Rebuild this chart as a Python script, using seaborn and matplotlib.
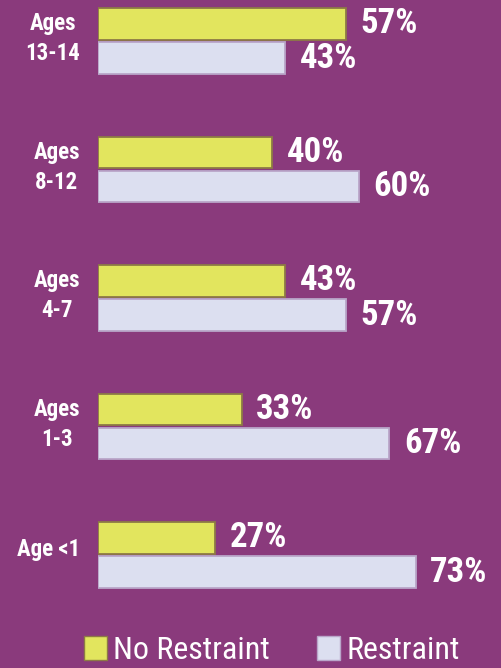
import os
import matplotlib
matplotlib.use("Agg")
import seaborn as sns
import matplotlib.pyplot as plt
import matplotlib.transforms as mtransforms
from matplotlib import font_manager as fm
import pandas as pd

# data
ages = ["Ages\n13-14", "Ages\n8-12", "Ages\n4-7", "Ages\n1-3", "Age <1"]
no_restraint = [57, 40, 43, 33, 27]
restraint = [43, 60, 57, 67, 73]
groups = ["No Restraint", "Restraint"]

bg = "#8a3a7c"
colors = {"No Restraint": "#e2e55e", "Restraint": "#dcdff0"}
edges = {"No Restraint": "#8d7a45", "Restraint": "#b9a6c9"}


def narrow_font(bold, size):
    # look for a narrow / condensed face, the reference text is very condensed
    prefs = ["liberation sans narrow", "roboto condensed", "dejavu sans",
             "noto sans", "open sans", ""]
    want = 700 if bold else 400
    found = []
    for f in fm.fontManager.ttflist:
        base = os.path.basename(f.fname).lower()
        key = (f.name + " " + base).lower()
        if "narrow" not in key and "condensed" not in key:
            continue
        if "semicondensed" in base or "extracondensed" in base or "italic" in base or "oblique" in base:
            continue
        w = f.weight if isinstance(f.weight, int) else fm.weight_dict.get(f.weight, 400)
        rank = next(i for i, p in enumerate(prefs) if p in f.name.lower())
        found.append((rank, abs(w - want), f.fname))
    if found:
        found.sort()
        return fm.FontProperties(fname=found[0][2], size=size), True
    return fm.FontProperties(family="DejaVu Sans",
                             weight="bold" if bold else "normal",
                             size=size * 0.8), False


pct_font, ok = narrow_font(True, 25)
tick_font, _ = narrow_font(True, 16.5)
leg_font, _ = narrow_font(False, 23)

df = pd.DataFrame({
    "age": ages * 2,
    "group": [groups[0]] * len(ages) + [groups[1]] * len(ages),
    "pct": no_restraint + restraint,
})

fig = plt.figure(figsize=(5.01, 6.68), dpi=100, facecolor=bg)
ax = fig.add_axes([98 / 501, 0, 1 - 98 / 501, 1])
ax.set_facecolor(bg)

sns.barplot(data=df, x="pct", y="age", hue="group", order=ages,
            hue_order=groups, palette=colors, orient="h", saturation=1,
            width=0.53, gap=0.07, ax=ax, legend=True)

for cont, g in zip(ax.containers, groups):
    for bar in cont:
        bar.set_edgecolor(edges[g])
        bar.set_linewidth(1.3)
    ax.bar_label(cont, labels=[f"{int(v)}%" for v in cont.datavalues],
                 padding=10.5, color="white", fontproperties=pct_font)

ax.set_xlim(0, 403 / 4.35)
ax.set_ylim((668 - 41) / 128.5, -41 / 128.5)

ax.set_xlabel("")
ax.set_ylabel("")
ax.set_xticks([])
ax.tick_params(axis="y", length=0, pad=13)
ax.set_yticklabels(ages, ha="right", multialignment="center",
                   color="white", fontproperties=tick_font, linespacing=1.4)
shift = mtransforms.ScaledTranslation(0, 6 / 72, fig.dpi_scale_trans)
for lab in ax.get_yticklabels():
    lab.set_transform(lab.get_transform() + shift)
for s in ax.spines.values():
    s.set_visible(False)

handles, labels = ax.get_legend_handles_labels()
ax.get_legend().remove()
for h, g in zip(handles, groups):
    h.set_edgecolor(edges[g])
leg = fig.legend(handles, labels, loc="lower left",
                 bbox_to_anchor=(84 / 501, 0.004), ncol=2, frameon=False,
                 prop=leg_font,
                 handlelength=0.72, handleheight=0.8, handletextpad=0.18,
                 columnspacing=1.5, borderpad=0, borderaxespad=0)
for t in leg.get_texts():
    t.set_color("white")

fig.savefig("out.png", dpi=100, facecolor=bg)
